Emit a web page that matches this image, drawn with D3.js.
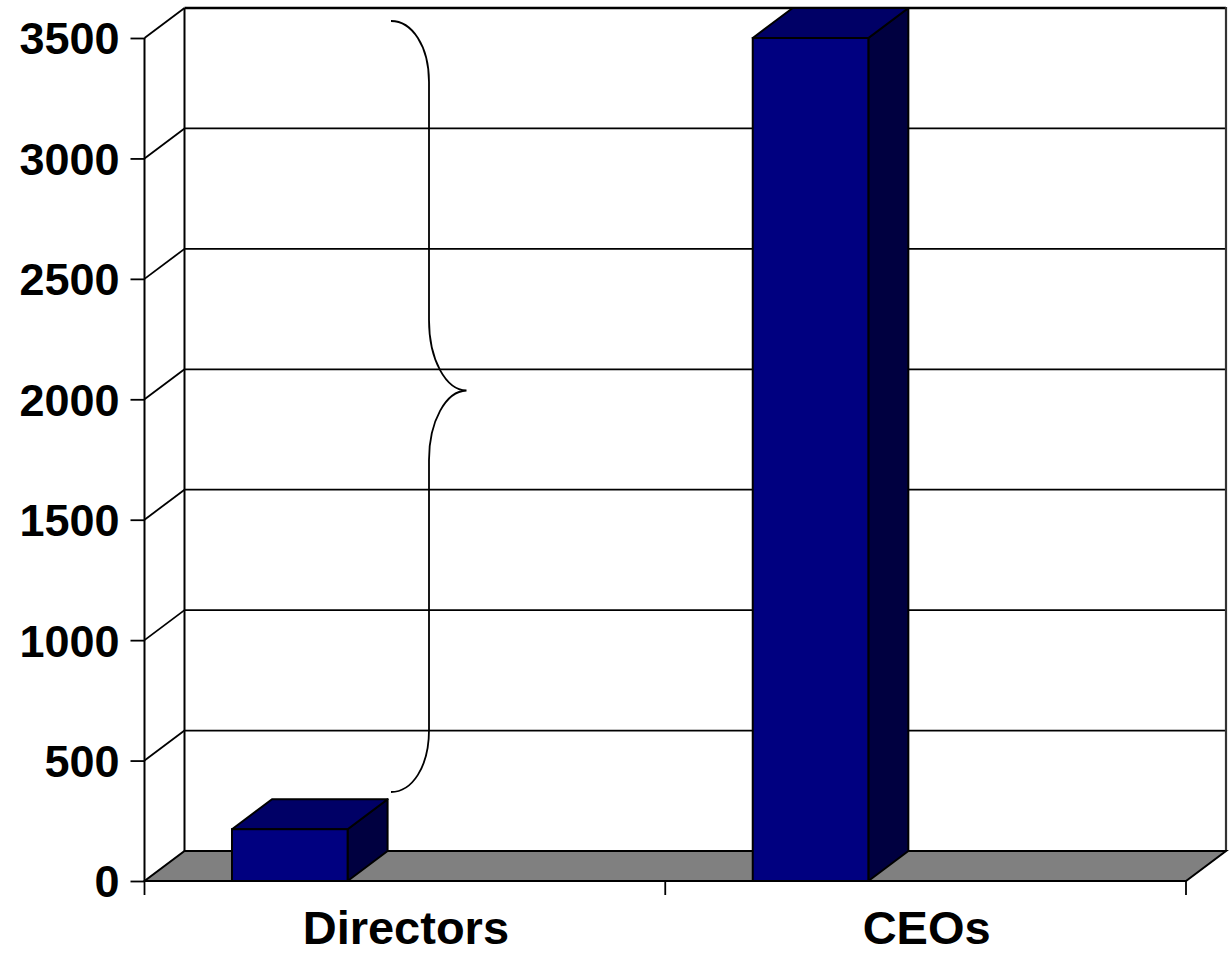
<!DOCTYPE html>
<html>
<head>
<meta charset="utf-8">
<script src="https://cdn.jsdelivr.net/npm/d3@7"></script>
<style>
  html, body { margin: 0; padding: 0; background: #ffffff; }
  svg { display: block; }
  text { font-family: "Liberation Sans", Arial, sans-serif; font-weight: bold; fill: #000; }
</style>
</head>
<body>
<svg id="chart" width="1231" height="960"></svg>
<script>
// Chart data
const categories = ["Directors", "CEOs"];
const values = [215, 3500];
const yTicks = [0, 500, 1000, 1500, 2000, 2500, 3000, 3500];

const svg = d3.select("#chart");

// Oblique depth of the 3D box (x shift, y shift of the back plane)
const DX = 40, DY = -30;
const LW = 1.8;

const x = d3.scaleBand().domain(categories).range([144.5, 1186]).padding(0);
const y = d3.scaleLinear().domain([0, 3500]).range([881, 38]);

const x0 = x.range()[0], x1 = x.range()[1];
const yMax = y.domain()[1];

// Back wall gridlines
const back = svg.append("g");
back.selectAll("line.grid")
  .data(yTicks.filter(v => v > 0))
  .join("line")
  .attr("x1", x0 + DX).attr("x2", x1 + DX)
  .attr("y1", d => y(d) + DY).attr("y2", d => y(d) + DY)
  .attr("stroke", "#000")
  .attr("stroke-width", d => d === yMax ? 2.6 : LW);

// Left side wall: back edge and diagonal gridlines
back.append("line")
  .attr("x1", x0 + DX).attr("x2", x0 + DX)
  .attr("y1", y(yMax) + DY).attr("y2", y(0) + DY)
  .attr("stroke", "#000").attr("stroke-width", 2);
back.selectAll("line.diag")
  .data(yTicks.filter(v => v > 0))
  .join("line")
  .attr("x1", x0).attr("x2", x0 + DX)
  .attr("y1", d => y(d)).attr("y2", d => y(d) + DY)
  .attr("stroke", "#000").attr("stroke-width", LW);

// Right edge of the back wall
back.append("line")
  .attr("x1", x1 + DX).attr("x2", x1 + DX)
  .attr("y1", y(yMax) + DY - 1).attr("y2", y(0) + DY)
  .attr("stroke", "#333").attr("stroke-width", 2.2);

// Floor
svg.append("polygon")
  .attr("points", [
    [x0, y(0)], [x1, y(0)], [x1 + DX, y(0) + DY], [x0 + DX, y(0) + DY]
  ].map(p => p.join(",")).join(" "))
  .attr("fill", "#808080")
  .attr("stroke", "#000").attr("stroke-width", 2)
  .attr("stroke-linejoin", "miter");

// Value axis
const yAxis = svg.append("g")
  .attr("transform", `translate(${x0},0)`)
  .call(d3.axisLeft(y).tickValues(yTicks).tickSize(14).tickPadding(11).tickFormat(d3.format("d")));
yAxis.select(".domain").attr("stroke", "#000").attr("stroke-width", 2)
  .attr("d", `M0,${y(yMax)}V${y(0)}`);
yAxis.selectAll(".tick line").attr("stroke", "#000").attr("stroke-width", LW);
yAxis.selectAll(".tick text")
  .attr("font-size", 45)
  .attr("font-family", "'Liberation Sans', Arial, sans-serif")
  .attr("font-weight", "bold")
  .attr("fill", "#000")
  .attr("dy", "0.355em");

// Category tick marks at band boundaries
const edges = categories.map(c => x(c)).concat([x1]);
svg.selectAll("line.ctick")
  .data(edges)
  .join("line")
  .attr("x1", d => d).attr("x2", d => d)
  .attr("y1", y(0)).attr("y2", y(0) + 14)
  .attr("stroke", "#000").attr("stroke-width", LW);

// 3D columns
const barOffset = 0.168, barWidth = 0.222;
const bars = svg.selectAll("g.bar")
  .data(categories.map((c, i) => ({ c, v: values[i] })))
  .join("g");

bars.each(function(d) {
  const g = d3.select(this);
  const bx = x(d.c) + barOffset * x.bandwidth();
  const bw = barWidth * x.bandwidth();
  const top = y(d.v), bot = y(0);
  const pts = a => a.map(p => p.join(",")).join(" ");
  // side face
  g.append("polygon")
    .attr("points", pts([[bx + bw, bot], [bx + bw + DX, bot + DY], [bx + bw + DX, top + DY], [bx + bw, top]]))
    .attr("fill", "#000040").attr("stroke", "#000").attr("stroke-width", 2).attr("stroke-linejoin", "round");
  // top face
  g.append("polygon")
    .attr("points", pts([[bx, top], [bx + DX, top + DY], [bx + bw + DX, top + DY], [bx + bw, top]]))
    .attr("fill", "#000066").attr("stroke", "#000").attr("stroke-width", 2).attr("stroke-linejoin", "round");
  // front face
  g.append("rect")
    .attr("x", bx).attr("y", top)
    .attr("width", bw).attr("height", bot - top)
    .attr("fill", "#000080").attr("stroke", "#000").attr("stroke-width", 2);
});

// Category labels
svg.selectAll("text.cat")
  .data(categories)
  .join("text")
  .attr("class", "cat")
  .attr("x", d => x(d) + x.bandwidth() / 2 + 1)
  .attr("y", 944)
  .attr("text-anchor", "middle")
  .attr("font-size", 47)
  .text(d => d);

// Curly brace annotation spanning the gap between the two columns
const brace = d3.path();
brace.moveTo(391, 21);
brace.bezierCurveTo(412, 21, 429, 46, 429, 82);
brace.lineTo(429, 320);
brace.bezierCurveTo(429, 360, 446, 390, 466.5, 390.5);
brace.bezierCurveTo(446, 391, 429, 421, 429, 460);
brace.lineTo(429, 730);
brace.bezierCurveTo(429, 767, 412, 792, 391, 792);
svg.append("path")
  .attr("d", brace.toString())
  .attr("fill", "none")
  .attr("stroke", "#000")
  .attr("stroke-width", 1.8);
</script>
</body>
</html>
